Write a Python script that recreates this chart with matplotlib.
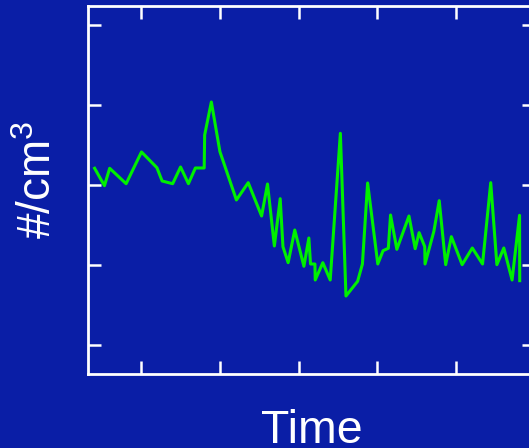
import matplotlib
matplotlib.use("Agg")
import matplotlib.pyplot as plt

# Data (arbitrary time units, concentration #/cm^3)
time = [4.09, 5.34, 6.0, 8.09, 10.04, 12.0, 12.66, 14.0, 15.0, 16.0, 16.88, 18.0,
        18.06, 18.91, 20.0, 22.09, 23.59, 25.29, 26.04, 26.91, 27.65, 28.0, 28.66,
        29.5, 30.66, 31.29, 31.5, 32.06, 32.1, 33.06, 34.0, 35.29, 36.0, 37.48,
        38.09, 38.75, 40.04, 40.71, 41.38, 41.66, 42.46, 44.0, 44.79, 45.29, 46.0,
        46.04, 47.16, 47.84, 48.66, 49.38, 50.75, 52.04, 53.34, 54.38, 55.16,
        56.04, 57.09, 58.04, 58.06]
conc = [3.209, 2.991, 3.209, 3.016, 3.413, 3.216, 3.05, 3.016, 3.225, 3.016, 3.2125,
        3.2125, 3.625, 4.0375, 3.416, 2.8125, 3.029, 2.6125, 3.0125, 2.2375, 2.829,
        2.229, 2.029, 2.4375, 1.984, 2.3375, 2.0125, 2.0125, 1.8125, 2.029, 1.8125,
        3.646, 1.6125, 1.796, 2.0125, 3.025, 2.0125, 2.179, 2.209, 2.625, 2.196,
        2.6125, 2.204, 2.404, 2.229, 2.0125, 2.421, 2.804, 2.004, 2.354, 2.004,
        2.2125, 2.0125, 3.029, 2.004, 2.2125, 1.8125, 2.621, 1.804]
x_ticks = [10, 20, 30, 40, 50, 60]
y_ticks = [1, 2, 3, 4, 5]

BG = "#0a1ea6"
plt.rcParams['font.family'] = ['Liberation Sans', 'DejaVu Sans']
plt.rcParams['mathtext.fontset'] = 'custom'
plt.rcParams['mathtext.rm'] = 'Liberation Sans'

fig = plt.figure(figsize=(5.29, 4.48), dpi=100, facecolor=BG)
ax = fig.add_axes([88/529, (448-374)/448, (535-88)/529, (374-5.7)/448])
ax.set_facecolor(BG)
ax.plot(time, conc, color="#00f000", lw=2.2)
ax.set_xlim(3.25, 59.125)
ax.set_ylim(0.6375, 5.241)
ax.set_xticks(x_ticks)
ax.set_yticks(y_ticks)
ax.tick_params(direction='in', length=9.5, width=1.8, color='white',
               top=True, right=True, labelbottom=False, labelleft=False)
for s in ax.spines.values():
    s.set_color('white')
    s.set_linewidth(2.0)

ax.set_xlabel("Time", fontsize=33.5, color='white')
ax.set_ylabel("#/cm$^{3}$", fontsize=33, color='white')
ax.xaxis.set_label_coords(0.5, -0.094)
ax.xaxis.label.set_va('top')
ax.yaxis.set_label_coords(-0.061, 0.527)

fig.savefig("out.png", dpi=100, facecolor=BG)
